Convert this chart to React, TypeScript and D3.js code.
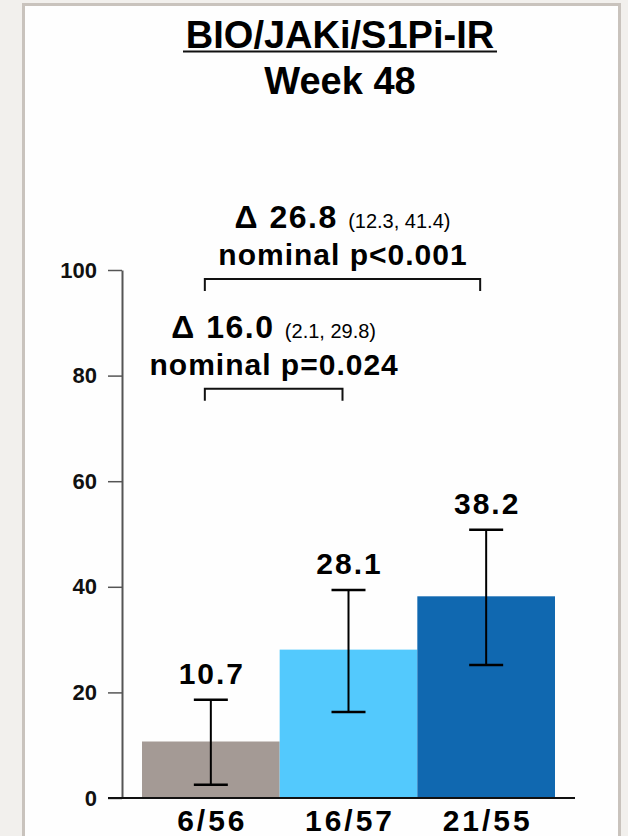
import React, { useEffect, useRef } from 'react';
import * as d3 from 'd3';

const categories = ['6/56', '16/57', '21/55'];
const rates = [10.7, 28.1, 38.2];
const ciLow = [2.5, 16.3, 25.2];
const ciHigh = [18.6, 39.4, 50.8];
const yTicks = [0, 20, 40, 60, 80, 100];

const compFrom = [0, 0];
const compTo = [1, 2];
const compDelta = ['16.0', '26.8'];
const compCI = ['(2.1, 29.8)', '(12.3, 41.4)'];
const compP = ['nominal p=0.024', 'nominal p<0.001'];

const barColors = ['#a49a95', '#53c9fd', '#1068b0'];
const FONT = '"Liberation Sans", Arial, sans-serif';

export default function App() {
  const svgRef = useRef<SVGSVGElement>(null);
  const width = 628;
  const height = 836;

  useEffect(() => {
    if (!svgRef.current) return;
    const svg = d3.select(svgRef.current);
    svg.selectAll('*').remove();

    // page + panel frame
    svg.append('rect').attr('width', width).attr('height', height).attr('fill', '#f2f0ed');
    svg
      .append('rect')
      .attr('x', 23.5)
      .attr('y', 4.5)
      .attr('width', 596)
      .attr('height', height + 20)
      .attr('fill', '#fefefe')
      .attr('stroke', '#c9c3bd')
      .attr('stroke-width', 3);

    const x = d3.scaleBand<string>().domain(categories).range([142, 555]).padding(0);
    const y = d3.scaleLinear().domain([0, 100]).range([798, 270]);

    // title
    svg
      .append('text')
      .attr('x', 340)
      .attr('y', 48)
      .attr('text-anchor', 'middle')
      .style('font-family', FONT)
      .style('font-size', '38px')
      .style('font-weight', '700')
      .text('BIO/JAKi/S1Pi-IR');
    svg
      .append('line')
      .attr('x1', 183)
      .attr('x2', 497)
      .attr('y1', 51.5)
      .attr('y2', 51.5)
      .attr('stroke', '#111')
      .attr('stroke-width', 2);
    svg
      .append('text')
      .attr('x', 340)
      .attr('y', 94)
      .attr('text-anchor', 'middle')
      .style('font-family', FONT)
      .style('font-size', '38px')
      .style('font-weight', '700')
      .text('Week 48');

    // y axis
    const axis = svg
      .append('g')
      .attr('transform', 'translate(122,0)')
      .call(d3.axisLeft(y).tickValues(yTicks).tickSize(14).tickSizeOuter(0).tickPadding(11));
    axis.select('.domain').attr('stroke', '#555').attr('stroke-width', 2);
    axis.selectAll('.tick line').attr('stroke', '#555').attr('stroke-width', 1.5);
    axis
      .selectAll('.tick text')
      .style('font-family', FONT)
      .style('font-size', '22px')
      .style('font-weight', '700')
      .attr('fill', '#111');

    // bars
    const idx = d3.range(categories.length);
    svg
      .append('g')
      .selectAll('rect')
      .data(idx)
      .enter()
      .append('rect')
      .attr('x', (i) => x(categories[i])!)
      .attr('width', x.bandwidth())
      .attr('y', (i) => y(rates[i]))
      .attr('height', (i) => y(0) - y(rates[i]))
      .attr('fill', (i) => barColors[i]);

    // baseline
    svg
      .append('line')
      .attr('x1', 108)
      .attr('x2', 575)
      .attr('y1', y(0))
      .attr('y2', y(0))
      .attr('stroke', '#111')
      .attr('stroke-width', 2);

    // error bars
    const cx = (i: number) => x(categories[i])! + x.bandwidth() / 2;
    const err = svg.append('g').attr('stroke', '#000').attr('stroke-width', 2);
    idx.forEach((i) => {
      err.append('line').attr('x1', cx(i)).attr('x2', cx(i)).attr('y1', y(ciLow[i])).attr('y2', y(ciHigh[i]));
      [ciLow[i], ciHigh[i]].forEach((v) => {
        err
          .append('line')
          .attr('x1', cx(i) - 17)
          .attr('x2', cx(i) + 17)
          .attr('y1', y(v))
          .attr('y2', y(v))
          .attr('stroke-width', 2.5);
      });
    });

    // value labels
    svg
      .append('g')
      .selectAll('text')
      .data(idx)
      .enter()
      .append('text')
      .attr('x', (i) => cx(i) + 1)
      .attr('y', (i) => y(ciHigh[i]) - 16)
      .attr('text-anchor', 'middle')
      .style('font-family', FONT)
      .style('font-size', '30px')
      .style('font-weight', '700')
      .style('letter-spacing', '2px')
      .text((i) => rates[i].toFixed(1));

    // category labels
    svg
      .append('g')
      .selectAll('text')
      .data(idx)
      .enter()
      .append('text')
      .attr('x', (i) => cx(i) + 1.5)
      .attr('y', 831)
      .attr('text-anchor', 'middle')
      .style('font-family', FONT)
      .style('font-size', '30px')
      .style('font-weight', '700')
      .style('letter-spacing', '3px')
      .text((i) => categories[i]);

    // comparison brackets
    const bracketLevels = [77.5, 98.3];
    compFrom.forEach((from, k) => {
      const x1 = cx(from) - 6;
      const x2 = cx(compTo[k]) - 6;
      const by = y(bracketLevels[k]);
      svg
        .append('path')
        .attr('d', `M${x1},${by + 12}V${by}H${x2}V${by + 12}`)
        .attr('fill', 'none')
        .attr('stroke', '#111')
        .attr('stroke-width', 2);
      const mid = (x1 + x2) / 2;
      const t = svg
        .append('text')
        .attr('x', mid)
        .attr('y', by - 51)
        .attr('text-anchor', 'middle')
        .style('font-family', FONT);
      t.append('tspan')
        .style('font-size', '32px')
        .style('font-weight', '700')
        .style('letter-spacing', '1.5px')
        .text(`Δ ${compDelta[k]} `);
      t.append('tspan').style('font-size', '20px').text(compCI[k]);
      svg
        .append('text')
        .attr('x', mid + 0.5)
        .attr('y', by - 14)
        .attr('text-anchor', 'middle')
        .style('font-family', FONT)
        .style('font-size', '30px')
        .style('font-weight', '700')
        .style('letter-spacing', '1px')
        .text(compP[k]);
    });
  }, []);

  return (
    <div style={{ position: 'absolute', left: 0, top: 0 }}>
      <svg ref={svgRef} width={width} height={height} style={{ display: 'block' }}></svg>
    </div>
  );
}
